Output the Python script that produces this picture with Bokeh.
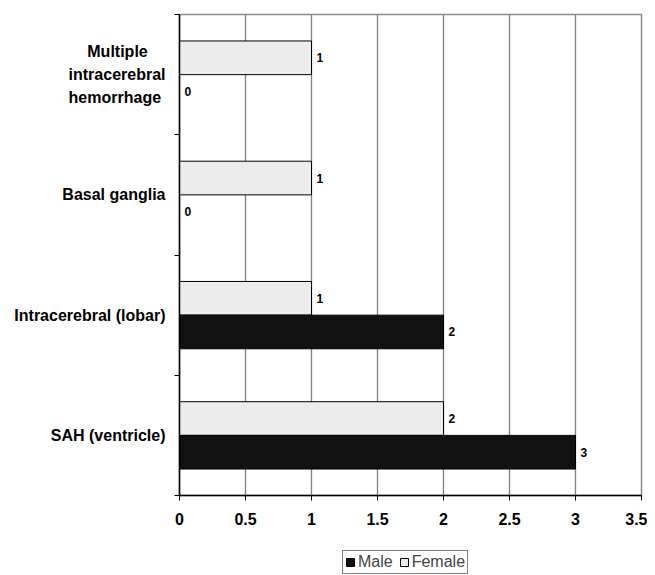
from bokeh.plotting import figure
from bokeh.layouts import column
from bokeh.models import (ColumnDataSource, FixedTicker, LabelSet, Legend, LegendItem, Range1d)
from bokeh.core.properties import value
from bokeh.embed import file_html
from bokeh.resources import INLINE

categories = ["SAH (ventricle)", "Intracerebral (lobar)", "Basal ganglia",
              "Multiple\nintracerebral\nhemorrhage"]
male = [3, 2, 0, 0]
female = [2, 1, 1, 1]
x_ticks = [0, 0.5, 1, 1.5, 2, 2.5, 3, 3.5]
x_tick_labels = ["0", "0.5", "1", "1.5", "2", "2.5", "3", "3.5"]

FONT = "Liberation Sans"
NB = "\u00a0"
centers = [i + 0.5 for i in range(len(categories))]
bar_h = 0.28
MALE_COLOR = "#111111"
FEMALE_COLOR = "#ececec"

p = figure(width=647, height=540, output_backend="svg", toolbar_location=None,
           x_range=(0, 3.5), y_range=(0, len(categories)),
           min_border_left=179, min_border_top=14, min_border_right=6,
           min_border_bottom=45)
p.background_fill_color = "white"
p.border_fill_color = "white"
p.outline_line_color = "#8c8c8c"
p.outline_line_width = 1.5

src_f = ColumnDataSource(dict(y=[c + bar_h / 2 for c in centers], v=female,
                              t=[str(v) for v in female]))
src_m = ColumnDataSource(dict(y=[c - bar_h / 2 for c in centers], v=male,
                              t=[str(v) for v in male]))

p.hbar(y="y", left=0, right="v", height=bar_h, source=src_f,
       fill_color=FEMALE_COLOR, line_color="black", line_width=1)
p.hbar(y="y", left=0, right="v", height=bar_h, source=src_m,
       fill_color=MALE_COLOR, line_color="black", line_width=1)

for s in (src_f, src_m):
    p.add_layout(LabelSet(x="v", y="y", text="t", source=s, x_offset=5,
                          text_baseline="middle", text_align="left",
                          text_font=value(FONT), text_font_style="bold",
                          text_font_size="12px", text_color="black"))

# grid
p.xgrid.ticker = FixedTicker(ticks=x_ticks)
p.xgrid.grid_line_color = "#7f7f7f"
p.xgrid.grid_line_width = 1.3
p.ygrid.grid_line_color = None

# x axis
xa = p.xaxis[0]
xa.ticker = FixedTicker(ticks=x_ticks)
xa.major_label_overrides = {t: l for t, l in zip(x_ticks, x_tick_labels)}
xa.axis_line_color = "black"
xa.axis_line_width = 1.3
xa.major_tick_out = 5
xa.major_tick_in = 0
xa.major_tick_line_color = "black"
xa.minor_tick_line_color = None
xa.major_label_text_font = FONT
xa.major_label_text_font_style = "bold"
xa.major_label_text_font_size = "16px"
xa.major_label_text_color = "black"
xa.major_label_standoff = 12

# y axis
ya = p.yaxis[0]
ya.ticker = FixedTicker(ticks=centers, minor_ticks=list(range(len(categories) + 1)))
shown = list(categories)
shown[3] = "Multiple" + NB * 4 + "\nintracerebral\nhemorrhage" + NB
ya.major_label_overrides = {c: l for c, l in zip(centers, shown)}
ya.axis_line_color = "black"
ya.axis_line_width = 1.5
ya.major_tick_line_color = None
ya.major_tick_out = 0
ya.major_tick_in = 0
ya.minor_tick_out = 5
ya.minor_tick_in = 0
ya.minor_tick_line_color = "black"
ya.major_label_standoff = 9
ya.major_label_text_font = FONT
ya.major_label_text_font_style = "bold"
ya.major_label_text_font_size = "16px"
ya.major_label_text_color = "black"
ya.major_label_text_align = "right"
ya.major_label_text_line_height = 1.35

# legend strip below the chart (its bars lie outside its own ranges)
p2 = figure(width=647, height=35, output_backend="svg", toolbar_location=None,
            x_axis_location=None, y_axis_location=None,
            x_range=Range1d(10, 20), y_range=Range1d(10, 20),
            min_border_left=0, min_border_right=0, min_border_top=0,
            min_border_bottom=0)
p2.outline_line_color = None
p2.grid.visible = False
p2.background_fill_color = "white"
p2.border_fill_color = "white"
lm = p2.hbar(y="y", left=0, right="v", height=bar_h, source=src_m,
             fill_color=MALE_COLOR, line_color="black", line_width=1)
lf = p2.hbar(y="y", left=0, right="v", height=bar_h, source=src_f,
             fill_color=FEMALE_COLOR, line_color="black", line_width=1)

legend = Legend(items=[LegendItem(label="Male", renderers=[lm]),
                       LegendItem(label="Female", renderers=[lf])],
                orientation="horizontal", location=(163, 1),
                label_text_font=FONT, label_text_font_size="16px",
                glyph_width=10, glyph_height=10, spacing=6,
                label_standoff=3, padding=2, margin=0,
                border_line_color="black", border_line_width=1,
                background_fill_color="white")
p2.add_layout(legend, "center")

open("out.html", "w").write(file_html(column(p, p2, spacing=0), INLINE))
